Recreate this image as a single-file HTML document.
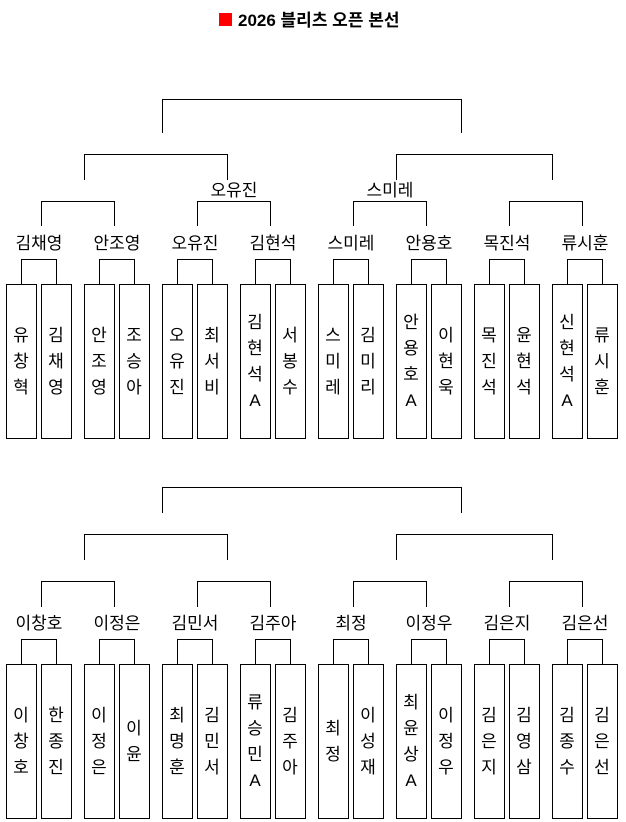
<!DOCTYPE html>
<html><head><meta charset="utf-8"><style>
html,body{margin:0;padding:0;background:#fff;}
svg{display:block;font-family:"Liberation Sans","Noto Sans CJK KR",sans-serif;}
.b{fill:#fff;stroke:#000;stroke-width:1}
.l{fill:none;stroke:#000;stroke-width:1}
text{font-size:17px;fill:#000;text-anchor:middle}
</style></head><body>
<svg width="626" height="822" viewBox="0 0 626 822">
<rect x="219" y="13" width="13" height="13" fill="#f00"/>
<text x="238" y="26" style="text-anchor:start;font-weight:bold;font-size:17px">2026 블리츠 오픈 본선</text>

<path class="l" d="M162.5 133V99.5H461.5V133"/>
<path class="l" d="M84.5 180V154.5H227.5V180 M396.5 180V154.5H552.5V180"/>
<path class="l" d="M41.5 226V201.5H114.5V226 M197.5 226V201.5H270.5V226 M353.5 226V201.5H426.5V226 M509.5 226V201.5H582.5V226"/>
<path class="l" d="M21.5 284V259.5H56.5V284 M99.5 284V259.5H134.5V284 M177.5 284V259.5H212.5V284 M255.5 284V259.5H290.5V284 M333.5 284V259.5H368.5V284 M411.5 284V259.5H446.5V284 M489.5 284V259.5H524.5V284 M567.5 284V259.5H602.5V284"/>
<text x="234" y="196">오유진</text>
<text x="390" y="196">스미레</text>
<text x="39" y="249">김채영</text><text x="117" y="249">안조영</text><text x="195" y="249">오유진</text><text x="273" y="249">김현석</text>
<text x="351" y="249">스미레</text><text x="429" y="249">안용호</text><text x="507" y="249">목진석</text><text x="585" y="249">류시훈</text>

<g>
<rect class="b" x="6.5" y="284.5" width="30" height="154"/><rect class="b" x="41.5" y="284.5" width="30" height="154"/>
<rect class="b" x="84.5" y="284.5" width="30" height="154"/><rect class="b" x="119.5" y="284.5" width="30" height="154"/>
<rect class="b" x="162.5" y="284.5" width="30" height="154"/><rect class="b" x="197.5" y="284.5" width="30" height="154"/>
<rect class="b" x="240.5" y="284.5" width="30" height="154"/><rect class="b" x="275.5" y="284.5" width="30" height="154"/>
<rect class="b" x="318.5" y="284.5" width="30" height="154"/><rect class="b" x="353.5" y="284.5" width="30" height="154"/>
<rect class="b" x="396.5" y="284.5" width="30" height="154"/><rect class="b" x="431.5" y="284.5" width="30" height="154"/>
<rect class="b" x="474.5" y="284.5" width="30" height="154"/><rect class="b" x="509.5" y="284.5" width="30" height="154"/>
<rect class="b" x="552.5" y="284.5" width="30" height="154"/><rect class="b" x="587.5" y="284.5" width="30" height="154"/>
</g>
<text><tspan x="21" y="341">유</tspan><tspan x="21" y="367">창</tspan><tspan x="21" y="393">혁</tspan></text>
<text><tspan x="56" y="341">김</tspan><tspan x="56" y="367">채</tspan><tspan x="56" y="393">영</tspan></text>
<text><tspan x="99" y="341">안</tspan><tspan x="99" y="367">조</tspan><tspan x="99" y="393">영</tspan></text>
<text><tspan x="134" y="341">조</tspan><tspan x="134" y="367">승</tspan><tspan x="134" y="393">아</tspan></text>
<text><tspan x="177" y="341">오</tspan><tspan x="177" y="367">유</tspan><tspan x="177" y="393">진</tspan></text>
<text><tspan x="212" y="341">최</tspan><tspan x="212" y="367">서</tspan><tspan x="212" y="393">비</tspan></text>
<text><tspan x="255" y="328">김</tspan><tspan x="255" y="354">현</tspan><tspan x="255" y="380">석</tspan><tspan x="255" y="406">A</tspan></text>
<text><tspan x="290" y="341">서</tspan><tspan x="290" y="367">봉</tspan><tspan x="290" y="393">수</tspan></text>
<text><tspan x="333" y="341">스</tspan><tspan x="333" y="367">미</tspan><tspan x="333" y="393">레</tspan></text>
<text><tspan x="368" y="341">김</tspan><tspan x="368" y="367">미</tspan><tspan x="368" y="393">리</tspan></text>
<text><tspan x="411" y="328">안</tspan><tspan x="411" y="354">용</tspan><tspan x="411" y="380">호</tspan><tspan x="411" y="406">A</tspan></text>
<text><tspan x="446" y="341">이</tspan><tspan x="446" y="367">현</tspan><tspan x="446" y="393">욱</tspan></text>
<text><tspan x="489" y="341">목</tspan><tspan x="489" y="367">진</tspan><tspan x="489" y="393">석</tspan></text>
<text><tspan x="524" y="341">윤</tspan><tspan x="524" y="367">현</tspan><tspan x="524" y="393">석</tspan></text>
<text><tspan x="567" y="328">신</tspan><tspan x="567" y="354">현</tspan><tspan x="567" y="380">석</tspan><tspan x="567" y="406">A</tspan></text>
<text><tspan x="602" y="341">류</tspan><tspan x="602" y="367">시</tspan><tspan x="602" y="393">훈</tspan></text>

<path class="l" d="M162.5 513V487.5H461.5V513"/>
<path class="l" d="M84.5 560V534.5H227.5V560 M396.5 560V534.5H552.5V560"/>
<path class="l" d="M41.5 607V581.5H114.5V607 M197.5 607V581.5H270.5V607 M353.5 607V581.5H426.5V607 M509.5 607V581.5H582.5V607"/>
<path class="l" d="M21.5 664V639.5H56.5V664 M99.5 664V639.5H134.5V664 M177.5 664V639.5H212.5V664 M255.5 664V639.5H290.5V664 M333.5 664V639.5H368.5V664 M411.5 664V639.5H446.5V664 M489.5 664V639.5H524.5V664 M567.5 664V639.5H602.5V664"/>
<text x="39" y="629">이창호</text><text x="117" y="629">이정은</text><text x="195" y="629">김민서</text><text x="273" y="629">김주아</text>
<text x="351" y="629">최정</text><text x="429" y="629">이정우</text><text x="507" y="629">김은지</text><text x="585" y="629">김은선</text>
<g>
<rect class="b" x="6.5" y="664.5" width="30" height="154"/><rect class="b" x="41.5" y="664.5" width="30" height="154"/>
<rect class="b" x="84.5" y="664.5" width="30" height="154"/><rect class="b" x="119.5" y="664.5" width="30" height="154"/>
<rect class="b" x="162.5" y="664.5" width="30" height="154"/><rect class="b" x="197.5" y="664.5" width="30" height="154"/>
<rect class="b" x="240.5" y="664.5" width="30" height="154"/><rect class="b" x="275.5" y="664.5" width="30" height="154"/>
<rect class="b" x="318.5" y="664.5" width="30" height="154"/><rect class="b" x="353.5" y="664.5" width="30" height="154"/>
<rect class="b" x="396.5" y="664.5" width="30" height="154"/><rect class="b" x="431.5" y="664.5" width="30" height="154"/>
<rect class="b" x="474.5" y="664.5" width="30" height="154"/><rect class="b" x="509.5" y="664.5" width="30" height="154"/>
<rect class="b" x="552.5" y="664.5" width="30" height="154"/><rect class="b" x="587.5" y="664.5" width="30" height="154"/>
</g>
<text><tspan x="21" y="721">이</tspan><tspan x="21" y="747">창</tspan><tspan x="21" y="773">호</tspan></text>
<text><tspan x="56" y="721">한</tspan><tspan x="56" y="747">종</tspan><tspan x="56" y="773">진</tspan></text>
<text><tspan x="99" y="721">이</tspan><tspan x="99" y="747">정</tspan><tspan x="99" y="773">은</tspan></text>
<text><tspan x="134" y="734">이</tspan><tspan x="134" y="760">윤</tspan></text>
<text><tspan x="177" y="721">최</tspan><tspan x="177" y="747">명</tspan><tspan x="177" y="773">훈</tspan></text>
<text><tspan x="212" y="721">김</tspan><tspan x="212" y="747">민</tspan><tspan x="212" y="773">서</tspan></text>
<text><tspan x="255" y="708">류</tspan><tspan x="255" y="734">승</tspan><tspan x="255" y="760">민</tspan><tspan x="255" y="786">A</tspan></text>
<text><tspan x="290" y="721">김</tspan><tspan x="290" y="747">주</tspan><tspan x="290" y="773">아</tspan></text>
<text><tspan x="333" y="734">최</tspan><tspan x="333" y="760">정</tspan></text>
<text><tspan x="368" y="721">이</tspan><tspan x="368" y="747">성</tspan><tspan x="368" y="773">재</tspan></text>
<text><tspan x="411" y="708">최</tspan><tspan x="411" y="734">윤</tspan><tspan x="411" y="760">상</tspan><tspan x="411" y="786">A</tspan></text>
<text><tspan x="446" y="721">이</tspan><tspan x="446" y="747">정</tspan><tspan x="446" y="773">우</tspan></text>
<text><tspan x="489" y="721">김</tspan><tspan x="489" y="747">은</tspan><tspan x="489" y="773">지</tspan></text>
<text><tspan x="524" y="721">김</tspan><tspan x="524" y="747">영</tspan><tspan x="524" y="773">삼</tspan></text>
<text><tspan x="567" y="721">김</tspan><tspan x="567" y="747">종</tspan><tspan x="567" y="773">수</tspan></text>
<text><tspan x="602" y="721">김</tspan><tspan x="602" y="747">은</tspan><tspan x="602" y="773">선</tspan></text>
</svg>
</body></html>
